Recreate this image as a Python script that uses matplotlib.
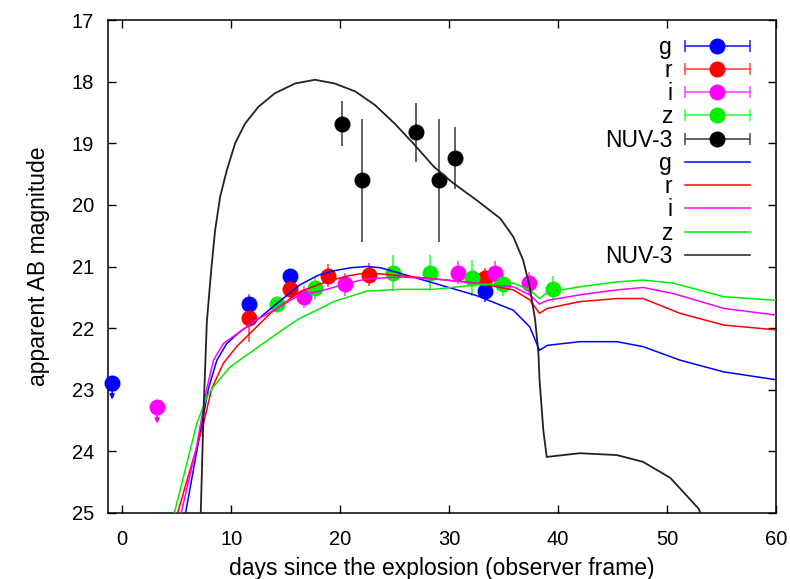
import matplotlib
matplotlib.use("Agg")
import matplotlib.pyplot as plt
from matplotlib.lines import Line2D
from matplotlib.legend_handler import HandlerLine2D, HandlerTuple

plt.rcParams['font.family'] = ['Liberation Sans', 'DejaVu Sans']

# ---------------- observed photometry ----------------
g_day = [11.68, 15.41, 33.3]
g_mag = [21.61, 21.16, 21.40]
g_err = [0.08, 0.08, 0.17]

r_day = [11.68, 15.41, 18.87, 22.66, 33.3]
r_mag = [21.84, 21.37, 21.15, 21.13, 21.19]
r_err = [0.39, 0.15, 0.19, 0.19, 0.17]

i_day = [16.7, 20.46, 30.8, 34.2, 37.37]
i_mag = [21.49, 21.29, 21.10, 21.10, 21.27]
i_err = [0.18, 0.19, 0.19, 0.19, 0.18]

z_day = [14.19, 17.7, 24.83, 28.26, 32.08, 34.93, 39.57]
z_mag = [21.61, 21.35, 21.11, 21.10, 21.19, 21.29, 21.36]
z_err = [0.10, 0.20, 0.29, 0.29, 0.29, 0.19, 0.21]

nuv_day = [20.16, 22.02, 26.97, 29.08, 30.55]
nuv_mag = [18.68, 19.60, 18.82, 19.60, 19.24]
nuv_err = [0.37, 1.00, 0.48, 1.00, 0.50]

# upper limits
gl_day = [-0.92]
gl_mag = [22.89]
il_day = [3.21]
il_mag = [23.28]
lim_len = 0.27

# ---------------- model light curves ----------------
gm_day = [5.4, 5.87, 7.0, 7.92, 8.69, 9.6, 10.8, 12.36, 14.2, 16.3, 18.0, 19.4, 21.0, 22.45,
          23.7, 25.5, 28.6, 32.5, 35.9, 37.4, 38.3, 39.0, 42.0, 45.4, 47.8, 51.2, 55.2, 60.1]
gm_mag = [25.4, 24.95, 23.85, 22.98, 22.52, 22.25, 22.06, 21.87, 21.6, 21.3, 21.14, 21.07, 21.02, 21.0,
          21.02, 21.11, 21.27, 21.47, 21.71, 21.98, 22.36, 22.28, 22.22, 22.22, 22.30, 22.52, 22.71, 22.84]

rm_day = [4.6, 5.17, 7.46, 8.22, 9.29, 10.5, 12.05, 13.6, 16.3, 18.2, 20.5, 22.45, 25.5, 28.6,
          32.5, 35.9, 37.4, 38.3, 39.0, 42.0, 45.4, 47.8, 51.2, 55.2, 60.1]
rm_mag = [25.4, 24.95, 23.55, 22.98, 22.57, 22.3, 22.03, 21.76, 21.41, 21.28, 21.16, 21.10, 21.15, 21.20,
          21.27, 21.38, 21.54, 21.76, 21.68, 21.57, 21.52, 21.52, 21.76, 21.95, 22.03]

im_day = [4.9, 5.48, 6.8, 7.77, 8.38, 9.29, 10.8, 12.2, 13.6, 16.3, 18.2, 20.5, 22.45, 25.5, 28.6,
          32.5, 35.9, 37.4, 38.3, 39.0, 42.0, 45.4, 47.8, 50.6, 55.2, 60.1]
im_mag = [25.4, 24.95, 23.95, 22.98, 22.52, 22.25, 22.06, 21.88, 21.74, 21.46, 21.40, 21.28, 21.20, 21.17, 21.20,
          21.27, 21.33, 21.46, 21.61, 21.55, 21.46, 21.38, 21.34, 21.44, 21.68, 21.79]

zm_day = [4.3, 4.86, 6.85, 7.77, 8.38, 9.9, 12.05, 14.2, 16.3, 18.2, 19.4, 22.45, 25.5, 28.6,
          32.5, 35.9, 37.4, 38.3, 39.0, 42.0, 45.4, 47.8, 50.6, 55.2, 60.1]
zm_mag = [25.5, 24.95, 23.55, 23.12, 22.95, 22.63, 22.36, 22.09, 21.84, 21.68, 21.57, 21.40, 21.37, 21.37,
          21.30, 21.27, 21.38, 21.52, 21.42, 21.33, 21.25, 21.22, 21.27, 21.49, 21.55]

nm_day = [7.1, 7.22, 7.46, 7.77, 8.17, 8.53, 8.99, 9.6, 10.37, 11.28, 12.5, 14.0, 15.87, 17.7, 19.5,
          21.4, 23.2, 25.0, 26.7, 28.6, 30.4, 32.5, 34.7, 35.9, 36.8, 37.4, 37.9, 38.2, 38.3,
          38.65, 38.96, 42.0, 45.4, 47.8, 50.3, 52.9, 53.3]
nm_mag = [25.6, 24.95, 23.39, 21.9, 21.06, 20.41, 19.87, 19.44, 19.0, 18.68, 18.41, 18.19, 18.03, 17.97, 18.03,
          18.16, 18.38, 18.68, 19.0, 19.38, 19.65, 19.92, 20.22, 20.52, 20.90, 21.33, 21.87, 22.41, 22.84,
          23.66, 24.09, 24.03, 24.06, 24.17, 24.43, 24.93, 25.1]

BLUE, RED, MAG, GREEN, BLACK = '#0000ff', '#ff0000', '#ff00ff', '#00ee00', '#000000'
ECOL = {BLUE: '#3333ff', RED: '#ff5555', MAG: '#ff55ff', GREEN: '#44ff44', BLACK: '#555555'}

fig = plt.figure(figsize=(7.9, 5.79), dpi=100)
ax = fig.add_axes([108/790, 1-513/579, (776-108)/790, (513-20)/579])

ms = 11.5
def pts(d, m, e, c):
    ax.errorbar(d, m, yerr=e, fmt='o', color=c, ecolor=ECOL[c], ms=ms, mew=0,
                elinewidth=1.3, capsize=4.5, capthick=1.2, zorder=3)

pts(g_day, g_mag, g_err, BLUE)
pts(r_day, r_mag, r_err, RED)
pts(i_day, i_mag, i_err, MAG)
pts(z_day, z_mag, z_err, GREEN)
pts(nuv_day, nuv_mag, nuv_err, BLACK)

# upper limits (arrows toward fainter magnitudes)
for d, m, c in [(gl_day, gl_mag, BLUE), (il_day, il_mag, MAG)]:
    ax.plot(d, m, 'o', color=c, ms=ms, mew=0, zorder=3, clip_on=False)
    for xx, yy in zip(d, m):
        ax.annotate('', xy=(xx, yy + lim_len), xytext=(xx, yy),
                    arrowprops=dict(arrowstyle='-|>', color=c, lw=1.2,
                                    mutation_scale=7, shrinkA=0, shrinkB=0), zorder=3)

lw = 1.1
ax.plot(gm_day, gm_mag, color=BLUE, lw=lw, zorder=4)
ax.plot(rm_day, rm_mag, color=RED, lw=lw, zorder=4)
ax.plot(im_day, im_mag, color=MAG, lw=lw, zorder=4)
ax.plot(zm_day, zm_mag, color=GREEN, lw=lw, zorder=4)
ax.plot(nm_day, nm_mag, color='#222222', lw=1.3, zorder=4)

ax.set_xlim(-1.3, 60)
ax.set_ylim(25, 17)
ax.set_xticks([0, 10, 20, 30, 40, 50, 60])
ax.set_yticks([17, 18, 19, 20, 21, 22, 23, 24, 25])
ax.tick_params(direction='in', length=6, width=1, top=True, right=True,
               labelsize=14.5, colors='black')
ax.tick_params(axis='x', pad=12)
ax.tick_params(axis='y', pad=10)
for s in ax.spines.values():
    s.set_linewidth(1.1)
ax.set_xlabel('days since the explosion (observer frame)', fontsize=16.5, labelpad=6)
ax.set_ylabel('apparent AB magnitude', fontsize=16.5, labelpad=16)

# legend
labels = ['g', 'r', 'i', 'z', 'NUV-3']
cols = [BLUE, RED, MAG, GREEN, BLACK]
handles, hmap = [], {}
for c in cols:
    bar = Line2D([], [], color=ECOL[c], lw=1.3, marker='|', ms=8, mew=1.2)
    dot = Line2D([], [], ls='none', marker='o', color=c, ms=ms, mew=0)
    hmap[dot] = HandlerLine2D(numpoints=1)
    hmap[bar] = HandlerLine2D(numpoints=2, marker_pad=0)
    handles.append((bar, dot))
for c in cols:
    handles.append(Line2D([], [], color=c if c != BLACK else '#222222', lw=lw))
hmap[tuple] = HandlerTuple(ndivide=1, pad=0)
leg = ax.legend(handles, labels + labels, handler_map=hmap, markerfirst=False,
                loc='upper right', bbox_to_anchor=(0.961, 0.968), frameon=False,
                fontsize=16.5, handlelength=2.85, handletextpad=0.55,
                labelspacing=0.01, borderpad=0, borderaxespad=0)

fig.savefig('out.png', dpi=100)
